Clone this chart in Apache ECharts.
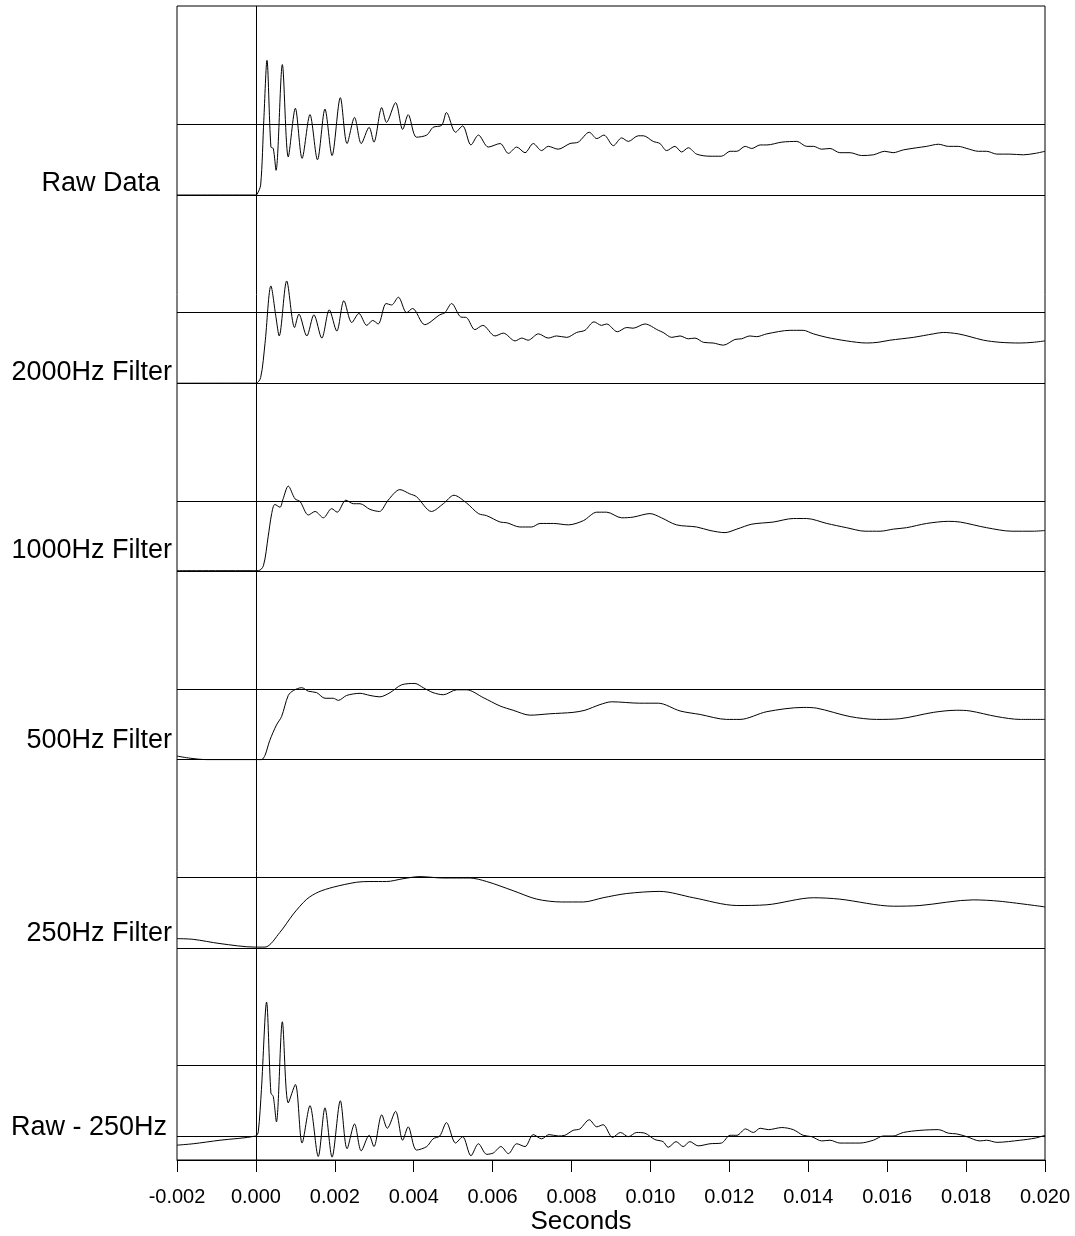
<!DOCTYPE html>
<html>
<head>
<meta charset="utf-8">
<script src="https://cdn.jsdelivr.net/npm/echarts@6/dist/echarts.min.js"></script>
<style>
  html, body { margin: 0; padding: 0; background: #fff; }
  #chart { width: 1075px; height: 1236px; }
</style>
</head>
<body>
<div id="chart"></div>
<script>
// time in milliseconds, amplitude normalised so 0 = baseline, 1 = reference level

var traceNames = ['Raw Data', '2000Hz Filter', '1000Hz Filter', '500Hz Filter', '250Hz Filter', 'Raw - 250Hz'];

var rawData = [
  [-2.00, 0], [0.00, 0], [0.03, 0.01], [0.12, 0.14], [0.20, 1.06], [0.28, 1.91], [0.38, 0.68], [0.44, 0.66],
  [0.51, 0.35], [0.67, 1.85], [0.82, 0.54], [1.00, 1.23], [1.17, 0.52], [1.37, 1.14], [1.56, 0.50],
  [1.75, 1.22], [1.93, 0.56], [2.14, 1.38], [2.31, 0.73], [2.50, 1.10], [2.67, 0.73], [2.87, 0.96],
  [2.99, 0.75], [3.19, 1.24], [3.31, 1.03], [3.54, 1.31], [3.72, 0.93], [3.86, 1.14], [4.07, 0.82],
  [4.33, 0.85], [4.49, 0.96], [4.71, 0.99], [4.83, 1.17], [5.06, 0.89], [5.24, 0.98], [5.45, 0.71],
  [5.64, 0.85], [5.89, 0.68], [6.19, 0.73], [6.40, 0.59], [6.61, 0.68], [6.82, 0.60], [7.03, 0.73],
  [7.24, 0.63], [7.41, 0.69], [7.66, 0.65], [7.96, 0.73], [8.17, 0.75], [8.45, 0.89], [8.64, 0.80],
  [8.82, 0.85], [9.06, 0.70], [9.27, 0.81], [9.44, 0.76], [9.69, 0.84], [9.82, 0.84], [10.07, 0.76],
  [10.24, 0.73], [10.41, 0.63], [10.62, 0.69], [10.79, 0.61], [10.96, 0.67], [11.17, 0.58], [11.51, 0.55],
  [11.80, 0.55], [12.02, 0.62], [12.19, 0.62], [12.40, 0.69], [12.57, 0.66], [12.78, 0.71], [12.95, 0.71],
  [13.33, 0.75], [13.71, 0.76], [13.96, 0.69], [14.13, 0.69], [14.34, 0.65], [14.55, 0.66], [14.80, 0.60],
  [15.06, 0.60], [15.35, 0.56], [15.65, 0.57], [15.94, 0.62], [16.15, 0.60], [16.41, 0.64], [16.75, 0.67],
  [17.00, 0.69], [17.30, 0.72], [17.55, 0.69], [17.80, 0.69], [18.02, 0.66], [18.31, 0.62], [18.52, 0.62],
  [18.78, 0.58], [19.11, 0.58], [19.45, 0.57], [19.75, 0.59], [20.00, 0.62]
];

var f2000Data = [
  [-2.00, 0], [0.00, 0], [0.12, 0.08], [0.23, 0.56], [0.38, 1.38], [0.51, 0.93], [0.59, 0.67], [0.78, 1.45],
  [0.98, 0.79], [1.09, 0.98], [1.29, 0.67], [1.47, 0.97], [1.67, 0.64], [1.86, 1.04], [2.05, 0.74],
  [2.23, 1.17], [2.43, 0.86], [2.61, 0.99], [2.81, 0.82], [2.96, 0.89], [3.10, 0.84], [3.30, 1.13],
  [3.44, 1.11], [3.61, 1.22], [3.82, 1.00], [3.97, 1.06], [4.28, 0.83], [4.66, 0.97], [4.79, 1.00],
  [4.96, 1.13], [5.19, 0.94], [5.34, 0.93], [5.55, 0.76], [5.75, 0.82], [6.06, 0.67], [6.27, 0.71],
  [6.57, 0.60], [6.74, 0.64], [6.90, 0.61], [7.16, 0.70], [7.41, 0.64], [7.62, 0.67], [7.88, 0.65],
  [8.13, 0.72], [8.34, 0.75], [8.57, 0.87], [8.76, 0.82], [8.89, 0.84], [9.16, 0.73], [9.40, 0.79],
  [9.56, 0.78], [9.86, 0.84], [10.20, 0.75], [10.32, 0.72], [10.54, 0.65], [10.75, 0.67], [10.96, 0.63],
  [11.13, 0.64], [11.34, 0.58], [11.59, 0.57], [11.85, 0.54], [12.14, 0.62], [12.31, 0.63], [12.52, 0.67],
  [12.69, 0.66], [12.95, 0.70], [13.54, 0.75], [13.87, 0.75], [14.13, 0.70], [14.47, 0.65], [14.97, 0.60],
  [15.48, 0.57], [15.77, 0.58], [16.07, 0.61], [16.66, 0.65], [17.17, 0.70], [17.42, 0.72], [17.80, 0.70],
  [18.10, 0.66], [18.44, 0.61], [18.86, 0.58], [19.37, 0.57], [19.70, 0.58], [20.00, 0.60]
];

var f1000Data = [
  [-2.00, 0.01], [0.06, 0.01], [0.19, 0.08], [0.31, 0.49], [0.40, 0.82], [0.48, 0.95], [0.61, 0.91],
  [0.69, 1.03], [0.82, 1.21], [0.99, 1.03], [1.12, 0.99], [1.33, 0.80], [1.50, 0.85], [1.71, 0.76],
  [1.92, 0.89], [2.06, 0.84], [2.28, 1.01], [2.47, 0.96], [2.64, 0.96], [2.89, 0.88], [3.13, 0.85],
  [3.35, 1.01], [3.65, 1.16], [3.90, 1.10], [4.07, 1.06], [4.45, 0.85], [4.75, 0.96], [5.02, 1.08],
  [5.34, 0.97], [5.64, 0.82], [5.85, 0.79], [6.19, 0.70], [6.36, 0.69], [6.69, 0.63], [6.99, 0.63],
  [7.20, 0.68], [7.54, 0.68], [7.92, 0.66], [8.30, 0.72], [8.64, 0.84], [8.89, 0.84], [9.27, 0.76],
  [9.56, 0.77], [9.99, 0.82], [10.28, 0.76], [10.66, 0.66], [11.17, 0.63], [11.51, 0.58], [11.89, 0.55],
  [12.19, 0.60], [12.57, 0.67], [13.11, 0.70], [13.62, 0.75], [13.96, 0.75], [14.47, 0.68], [14.97, 0.62],
  [15.44, 0.57], [15.82, 0.57], [16.16, 0.60], [16.49, 0.62], [17.00, 0.68], [17.55, 0.71], [17.85, 0.70],
  [18.52, 0.62], [19.16, 0.57], [19.70, 0.57], [20.00, 0.58]
];

var f500Data = [
  [-2.00, 0.05], [-1.67, 0.02], [-1.25, 0], [0.00, 0], [0.14, 0], [0.23, 0.06], [0.35, 0.27], [0.52, 0.49],
  [0.65, 0.61], [0.82, 0.91], [0.95, 0.98], [1.16, 1.02], [1.33, 0.97], [1.54, 0.95], [1.75, 0.87],
  [1.96, 0.87], [2.09, 0.84], [2.30, 0.91], [2.64, 0.94], [2.89, 0.91], [3.14, 0.89], [3.40, 0.95],
  [3.69, 1.06], [4.03, 1.08], [4.24, 1.02], [4.49, 0.95], [4.75, 0.92], [5.09, 0.99], [5.34, 0.99],
  [5.76, 0.88], [6.19, 0.76], [6.52, 0.70], [6.95, 0.63], [7.45, 0.65], [8.04, 0.67], [8.34, 0.70],
  [8.72, 0.78], [9.02, 0.82], [9.73, 0.80], [10.20, 0.80], [10.75, 0.69], [11.26, 0.64], [11.93, 0.57],
  [12.27, 0.57], [12.95, 0.68], [13.87, 0.74], [14.21, 0.73], [15.06, 0.61], [15.73, 0.57], [16.32, 0.58],
  [17.17, 0.67], [17.76, 0.70], [18.10, 0.69], [18.78, 0.61], [19.37, 0.57], [20.00, 0.57]
];

var f250Data = [
  [-2.00, 0.13], [-1.59, 0.12], [-0.91, 0.06], [-0.03, 0.01], [0.23, 0.01], [0.61, 0.22], [0.95, 0.48],
  [1.29, 0.69], [1.58, 0.79], [1.96, 0.86], [2.55, 0.93], [2.89, 0.94], [3.31, 0.94], [3.73, 0.98],
  [4.16, 1.01], [4.75, 0.99], [5.42, 0.99], [5.85, 0.94], [6.52, 0.81], [7.12, 0.69], [7.75, 0.65],
  [8.30, 0.65], [8.80, 0.71], [9.40, 0.77], [10.24, 0.80], [11.09, 0.71], [12.19, 0.60], [12.95, 0.61],
  [14.13, 0.71], [14.80, 0.69], [16.16, 0.59], [16.83, 0.60], [18.18, 0.68], [18.86, 0.66], [20.00, 0.58]
];

var diffData = [
  [-2.00, -0.13], [-1.59, -0.11], [-0.91, -0.06], [0.00, 0], [0.06, 0.06], [0.14, 0.66], [0.27, 1.90],
  [0.38, 0.61], [0.44, 0.56], [0.52, 0.20], [0.67, 1.62], [0.82, 0.47], [1.00, 0.73], [1.17, -0.10],
  [1.37, 0.43], [1.58, -0.29], [1.75, 0.40], [1.93, -0.30], [2.14, 0.50], [2.31, -0.18], [2.50, 0.17],
  [2.67, -0.21], [2.87, 0.01], [2.99, -0.15], [3.19, 0.30], [3.33, 0.11], [3.54, 0.35], [3.72, -0.06],
  [3.86, 0.13], [4.07, -0.20], [4.33, -0.15], [4.49, -0.04], [4.66, 0.00], [4.83, 0.19], [5.06, -0.10],
  [5.24, -0.01], [5.45, -0.28], [5.64, -0.11], [5.85, -0.26], [6.02, -0.24], [6.21, -0.15], [6.40, -0.25],
  [6.61, -0.11], [6.82, -0.15], [7.03, 0.02], [7.24, -0.04], [7.43, 0.02], [7.66, 0], [7.83, 0.01],
  [8.04, 0.08], [8.21, 0.10], [8.45, 0.23], [8.64, 0.13], [8.80, 0.16], [9.04, -0.02], [9.24, 0.05],
  [9.44, -0.01], [9.65, 0.05], [9.86, 0.04], [10.11, -0.05], [10.32, -0.08], [10.45, -0.16], [10.65, -0.08],
  [10.83, -0.15], [11.00, -0.08], [11.21, -0.14], [11.51, -0.11], [11.80, -0.10], [12.02, 0.01], [12.19, 0.01],
  [12.41, 0.10], [12.61, 0.05], [12.78, 0.11], [12.99, 0.09], [13.33, 0.12], [13.62, 0.09], [13.87, 0.01],
  [14.09, -0.01], [14.34, -0.07], [14.55, -0.06], [14.80, -0.10], [15.31, -0.10], [15.65, -0.06], [15.90, 0.00],
  [16.15, 0.00], [16.41, 0.05], [16.83, 0.08], [17.30, 0.09], [17.55, 0.04], [17.76, 0.03], [18.02, -0.01],
  [18.35, -0.07], [18.52, -0.06], [18.78, -0.09], [19.37, -0.06], [19.75, -0.03], [20.00, 0.01]
];

var traces = [rawData, f2000Data, f1000Data, f500Data, f250Data, diffData];

// layout of the stacked panels (pixels)
var gridTop = 6, gridBottom = 1160;
var firstBase = 195, panelStep = 188.2, unitPx = 70.5;
var labelRight = [160, 172, 172, 172, 172, 167];
var labelY = [184, 373, 551, 741, 934, 1128];

var dom = document.getElementById('chart');
var myChart = echarts.init(dom, null, { renderer: 'canvas' });

var yAxes = [];
var series = [];
var graphics = [];

traces.forEach(function (pts, k) {
  var base = firstBase + panelStep * k;
  yAxes.push({
    type: 'value',
    show: false,
    min: -(gridBottom - base) / unitPx,
    max: (base - gridTop) / unitPx
  });
  var marks = [{ yAxis: 0 }, { yAxis: 1 }];
  if (k === 0) marks.push({ xAxis: 0 });
  series.push({
    name: traceNames[k],
    type: 'line',
    yAxisIndex: k,
    data: pts.map(function (p) { return [p[0] / 1000, p[1]]; }),
    symbol: 'none',
    smooth: 0.3,
    silent: true,
    lineStyle: { color: '#000', width: 1 },
    markLine: {
      symbol: 'none',
      silent: true,
      label: { show: false },
      lineStyle: { color: '#000', width: 1, type: 'solid' },
      data: marks
    }
  });
  graphics.push({
    type: 'text',
    x: labelRight[k],
    y: labelY[k],
    style: {
      text: traceNames[k],
      fill: '#000',
      font: '27px "Liberation Sans", Arial, sans-serif',
      textAlign: 'right',
      textVerticalAlign: 'middle'
    }
  });
});

graphics.push({
  type: 'text',
  x: 581,
  y: 1222,
  style: {
    text: 'Seconds',
    fill: '#000',
    font: '26px "Liberation Sans", Arial, sans-serif',
    textAlign: 'center',
    textVerticalAlign: 'middle'
  }
});

var option = {
  animation: false,
  backgroundColor: '#fff',
  grid: {
    left: 177,
    right: 30,
    top: gridTop,
    bottom: 1236 - gridBottom,
    containLabel: false,
    outerBoundsMode: 'none',
    show: true,
    borderColor: '#000',
    borderWidth: 1
  },
  xAxis: {
    type: 'value',
    min: -0.002,
    max: 0.020,
    interval: 0.002,
    axisLine: { show: true, onZero: false, lineStyle: { color: '#000', width: 1 } },
    axisTick: { show: true, inside: false, length: 12, lineStyle: { color: '#000' } },
    splitLine: { show: false },
    axisLabel: {
      color: '#000',
      fontSize: 20,
      fontFamily: 'Liberation Sans',
      margin: 27,
      showMinLabel: true,
      showMaxLabel: true,
      formatter: function (v) {
        if (Math.abs(v) < 1e-9) return '0.000';
        return v.toFixed(3);
      }
    }
  },
  yAxis: yAxes,
  series: series,
  graphic: graphics
};

myChart.setOption(option);
window.addEventListener('resize', myChart.resize);
</script>
</body>
</html>
